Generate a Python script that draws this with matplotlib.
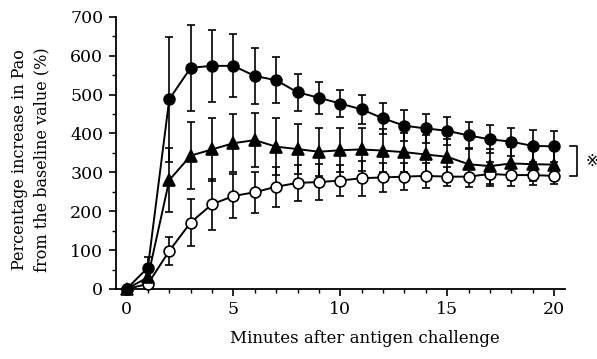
import matplotlib
matplotlib.use("Agg")
import matplotlib.pyplot as plt
from matplotlib.ticker import MultipleLocator

plt.rcParams['font.family'] = ['DejaVu Serif', 'DejaVu Sans', 'Noto Sans CJK JP']

minutes = list(range(0, 21))

filled_mean = [0, 55, 488, 569, 574, 574, 548, 537, 506, 492, 477, 462, 439, 420, 413, 407, 395, 385, 379, 368, 367]
filled_err = [0, 28, 161, 111, 92, 81, 72, 59, 48, 41, 35, 37, 40, 40, 37, 36, 35, 36, 36, 41, 40]

tri_mean = [0, 30, 280, 343, 359, 375, 383, 366, 360, 353, 357, 359, 356, 352, 346, 340, 321, 316, 323, 321, 320]
tri_err = [0, 20, 83, 87, 82, 74, 70, 73, 64, 62, 57, 56, 55, 50, 50, 45, 42, 45, 42, 44, 40]

open_mean = [0, 13, 98, 171, 218, 239, 249, 263, 273, 275, 279, 285, 287, 289, 291, 289, 289, 296, 293, 293, 291]
open_err = [0, 10, 35, 60, 65, 57, 53, 51, 47, 46, 41, 45, 37, 35, 32, 24, 26, 31, 28, 26, 22]

fig = plt.figure(figsize=(5.97, 3.59), dpi=100)
ax = fig.add_axes([0.194, 0.195, 0.752, 0.758])

common = dict(color='black', lw=1.4, capsize=3, elinewidth=1.2, capthick=1.2, clip_on=False)
for mean, err, mk, ms, mfc in [(open_mean, open_err, 'o', 7.8, 'white'),
                                (tri_mean, tri_err, '^', 8.5, 'black'),
                                (filled_mean, filled_err, 'o', 7.8, 'black')]:
    cont = ax.errorbar(minutes, mean, yerr=err, fmt='-', marker=mk, ms=ms,
                       mfc=mfc, mec='black', mew=1.2, zorder=3, **common)
    for c in cont[1]:
        c.set_clip_on(False)
    for c in cont[2]:
        c.set_clip_on(False)

ax.set_xlim(-0.5, 20.5)
ax.set_ylim(0, 700)
ax.xaxis.set_major_locator(MultipleLocator(5))
ax.xaxis.set_minor_locator(MultipleLocator(1))
ax.yaxis.set_major_locator(MultipleLocator(100))
ax.yaxis.set_minor_locator(MultipleLocator(50))
ax.spines['top'].set_visible(False)
ax.spines['right'].set_visible(False)
for s in ['left', 'bottom']:
    ax.spines[s].set_linewidth(1.3)
ax.tick_params(which='major', length=5, width=1.2, labelsize=12.5, direction='out', pad=4)
ax.tick_params(which='minor', length=3, width=1.0, direction='out')

ax.set_ylabel('Percentage increase in Pao\nfrom the baseline value (%)', fontsize=11.5,
              linespacing=1.45)
ax.yaxis.set_label_coords(-0.145, 0.474)
ax.set_xlabel('Minutes after antigen challenge', fontsize=12)
ax.xaxis.set_label_coords(0.555, -0.152)

# bracket with reference mark
top = filled_mean[-1]
bot = open_mean[-1]
ax.plot([20.75, 21.08, 21.08, 20.75], [top, top, bot, bot], color='black', lw=1.2, clip_on=False)
ax.text(21.75, (top + bot) / 2, '※', fontsize=11, ha='center', va='center',
        family=['DejaVu Sans', 'Noto Sans CJK JP'])

fig.savefig('out.png', dpi=100)
